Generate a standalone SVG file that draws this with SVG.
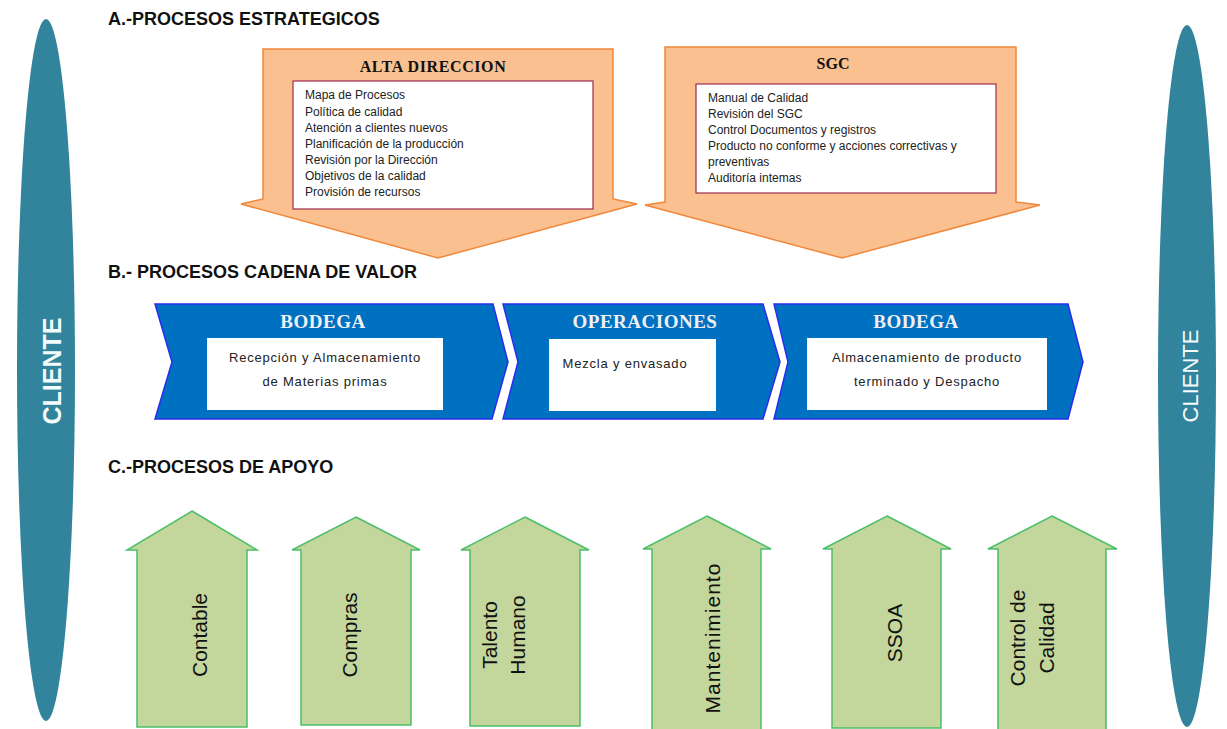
<svg xmlns="http://www.w3.org/2000/svg" width="1227" height="729" viewBox="0 0 1227 729">
<style>
.hdr{font-family:"Liberation Sans",Arial,sans-serif;font-weight:bold;font-size:18px;fill:#111}
.cli{fill:#31849b}
.clit{font-family:"Liberation Sans",Arial,sans-serif;fill:#f4fbfd}
.org{fill:#fac090;stroke:#f0873a;stroke-width:1.5}
.inbox{fill:#fff;stroke:#9e2a4e;stroke-width:1.2}
.stit{font-family:"Liberation Serif","Times New Roman",serif;font-weight:bold;font-size:16px;fill:#111;text-anchor:middle}
.lst{font-family:"Liberation Sans",Arial,sans-serif;font-size:12px;fill:#222}
.blu{fill:#0070c0;stroke:#2b2bf0;stroke-width:1.5}
.wbox{fill:#fff}
.btit{font-family:"Liberation Serif","Times New Roman",serif;font-weight:bold;font-size:19px;fill:#f0f0f4;text-anchor:middle;letter-spacing:0.5px}
.btx{font-family:"Liberation Sans",Arial,sans-serif;font-size:13px;fill:#222;text-anchor:middle;letter-spacing:0.8px}
.grn{fill:#c3d69b;stroke:#4cbf6a;stroke-width:1.5}
.gtx{font-family:"Liberation Sans",Arial,sans-serif;font-size:21px;fill:#111;text-anchor:middle}
</style>

<g id="cliente-left">
<ellipse class="cli" cx="46" cy="370" rx="29" ry="351"/>
<text class="clit" transform="translate(52,371) rotate(-90)" y="9" text-anchor="middle" font-size="25" font-weight="bold">CLIENTE</text>
</g>
<g id="cliente-right">
<ellipse class="cli" cx="1187" cy="376" rx="29" ry="351"/>
<text class="clit" transform="translate(1190,376) rotate(-90)" y="8" text-anchor="middle" font-size="22">CLIENTE</text>
</g>

<g id="headers">
<text class="hdr" x="108" y="25">A.-PROCESOS ESTRATEGICOS</text>
<text class="hdr" x="108" y="278">B.- PROCESOS CADENA DE VALOR</text>
<text class="hdr" x="108" y="473">C.-PROCESOS DE APOYO</text>
</g>

<g id="alta-direccion">
<polygon class="org" points="263,49 613,49 613,199 637,204 438,258 241,204 263,199"/>
<text class="stit" x="433" y="72" letter-spacing="0.6">ALTA DIRECCION</text>
<rect class="inbox" x="293" y="81" width="300" height="128"/>
<text class="lst" x="305" y="99">Mapa de Procesos</text>
<text class="lst" x="305" y="116">Política de calidad</text>
<text class="lst" x="305" y="132">Atención a clientes nuevos</text>
<text class="lst" x="305" y="148">Planificación de la producción</text>
<text class="lst" x="305" y="164">Revisión por la Dirección</text>
<text class="lst" x="305" y="180">Objetivos de la calidad</text>
<text class="lst" x="305" y="196">Provisión de recursos</text>
</g>

<g id="sgc">
<polygon class="org" points="665,47 1016,47 1016,202 1040,205 842,258 645,205 665,202"/>
<text class="stit" x="833" y="69">SGC</text>
<rect class="inbox" x="696" y="84" width="300" height="109"/>
<text class="lst" x="708" y="102">Manual de Calidad</text>
<text class="lst" x="708" y="118">Revisión del SGC</text>
<text class="lst" x="708" y="134">Control Documentos y registros</text>
<text class="lst" x="708" y="150">Producto no conforme y acciones correctivas y</text>
<text class="lst" x="708" y="166">preventivas</text>
<text class="lst" x="708" y="182">Auditoría intemas</text>
</g>

<g id="bodega-1">
<polygon class="blu" points="155,304 493,304 508,362 492,419 155,419 172,362"/>
<text class="btit" x="323" y="328">BODEGA</text>
<rect class="wbox" x="207" y="338" width="236" height="72"/>
<text class="btx" x="325" y="362">Recepción y Almacenamiento</text>
<text class="btx" x="325" y="386">de Materias primas</text>
</g>

<g id="operaciones">
<polygon class="blu" points="503,304 763,304 780,362 763,419 503,419 518,362"/>
<text class="btit" x="645" y="328">OPERACIONES</text>
<rect class="wbox" x="549" y="339" width="167" height="72"/>
<text class="btx" x="625" y="368" letter-spacing="1.4">Mezcla y envasado</text>
</g>

<g id="bodega-2">
<polygon class="blu" points="774,304 1068,304 1083,362 1068,419 774,419 788,362"/>
<text class="btit" x="916" y="328">BODEGA</text>
<rect class="wbox" x="807" y="338" width="240" height="72"/>
<text class="btx" x="927" y="362">Almacenamiento de producto</text>
<text class="btx" x="927" y="386">terminado y Despacho</text>
</g>

<g id="contable">
<polygon class="grn" points="192,511 257,550 247,550 247,727 137,727 137,550 127,550"/>
<text class="gtx" transform="translate(200,635) rotate(-90)" y="7">Contable</text>
</g>
<g id="compras">
<polygon class="grn" points="356,517 420,550 411,550 411,725 301,725 301,550 292,550"/>
<text class="gtx" transform="translate(350,635) rotate(-90)" y="7">Compras</text>
</g>
<g id="talento-humano">
<polygon class="grn" points="525,517 589,550 580,550 580,726 470,726 470,550 461,550"/>
<text class="gtx" transform="translate(490,635) rotate(-90)" y="7">Talento</text>
<text class="gtx" transform="translate(518,635) rotate(-90)" y="7">Humano</text>
</g>
<g id="mantenimiento">
<polygon class="grn" points="707,516 771,549 761,549 761,732 652,732 652,549 643,549"/>
<text class="gtx" transform="translate(713,638) rotate(-90)" y="7" letter-spacing="1">Mantenimiento</text>
</g>
<g id="ssoa">
<polygon class="grn" points="887,516 951,549 941,549 941,728 832,728 832,549 823,549"/>
<text class="gtx" transform="translate(895,633) rotate(-90)" y="7">SSOA</text>
</g>
<g id="control-calidad">
<polygon class="grn" points="1052,516 1117,549 1106,549 1106,732 998,732 998,549 988,549"/>
<text class="gtx" transform="translate(1018,638) rotate(-90)" y="7">Control de</text>
<text class="gtx" transform="translate(1047,638) rotate(-90)" y="7">Calidad</text>
</g>

<g id="connectors"></g>
</svg>
